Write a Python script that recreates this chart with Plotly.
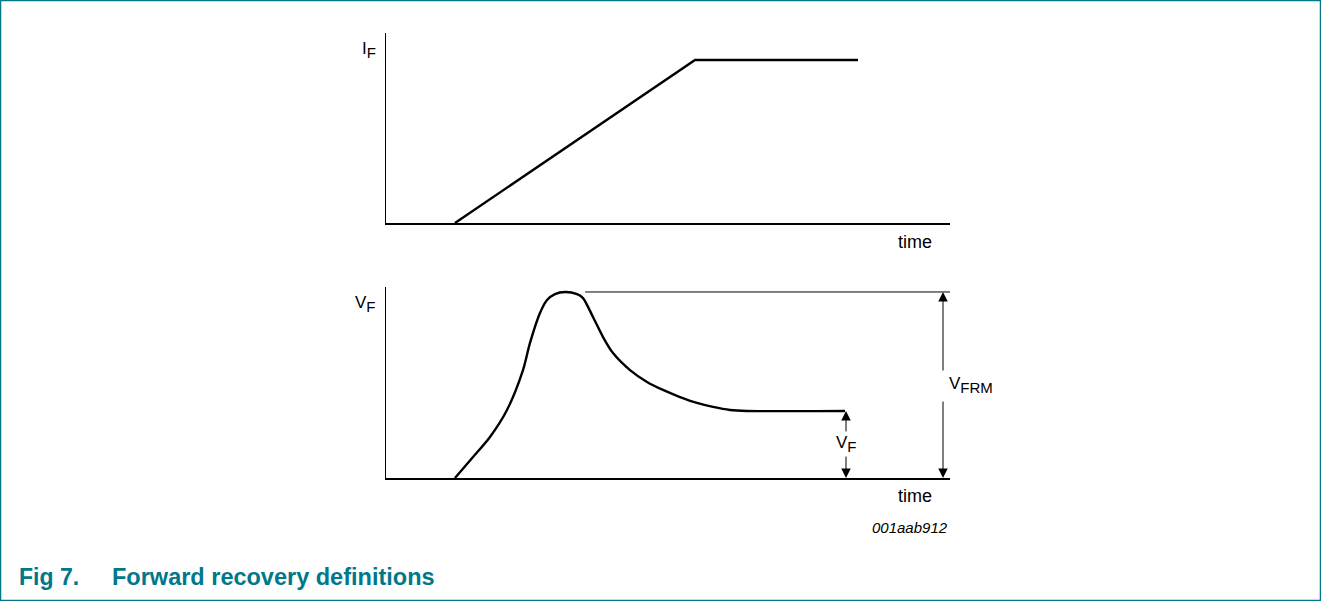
import plotly.graph_objects as go

W, H = 1321, 601

# ---- data (time in arbitrary units 0..10, amplitude normalised 0..1) ----
if_time = [1.223, 5.479, 8.369]
if_value = [0.0, 0.858, 0.858]

vf_time = [1.223, 1.543, 1.844, 2.145, 2.429, 2.553, 2.730, 2.855, 2.996, 3.174,
           3.387, 3.493, 3.670, 3.848, 4.025, 4.326, 4.628, 4.911, 5.213, 5.514,
           5.798, 6.099, 6.401, 8.138]
vf_value = [0.0, 0.110, 0.215, 0.356, 0.565, 0.707, 0.864, 0.932, 0.963, 0.974,
            0.963, 0.942, 0.843, 0.738, 0.654, 0.565, 0.503, 0.461, 0.424, 0.393,
            0.372, 0.356, 0.351, 0.351]

vfrm_level = 0.974
vf_level = 0.351
peak_line_time = [3.53, 10.0]
vfrm_arrow_time = 9.876
vf_arrow_time = 8.156

TEAL = "#00788a"
FONT = "Liberation Sans, Arial, sans-serif"


def px(x):
    return x / W


def py(y):
    return 1 - y / H


fig = go.Figure()

fig.add_trace(go.Scatter(x=if_time, y=if_value, mode="lines",
                         line=dict(color="black", width=2.4),
                         xaxis="x", yaxis="y", showlegend=False, hoverinfo="skip"))
fig.add_trace(go.Scatter(x=vf_time, y=vf_value, mode="lines",
                         line=dict(color="black", width=2.4, shape="spline", smoothing=0.8),
                         xaxis="x2", yaxis="y2", showlegend=False, hoverinfo="skip"))
fig.add_trace(go.Scatter(x=peak_line_time, y=[vfrm_level, vfrm_level], mode="lines",
                         line=dict(color="black", width=1),
                         xaxis="x2", yaxis="y2", showlegend=False, hoverinfo="skip"))

ax_common = dict(showline=True, linecolor="black", linewidth=1.5, showgrid=False,
                 zeroline=False, showticklabels=False, ticks="", fixedrange=True)
xdom = [386 / W, 950 / W]
fig.update_layout(
    width=W, height=H,
    margin=dict(l=0, r=0, t=0, b=0),
    paper_bgcolor="white", plot_bgcolor="white",
    xaxis=dict(domain=xdom, range=[0, 10], anchor="y", **ax_common),
    yaxis=dict(domain=[py(223), py(33)], range=[0, 1], anchor="x", **ax_common),
    xaxis2=dict(domain=xdom, range=[0, 10], anchor="y2", **ax_common),
    yaxis2=dict(domain=[py(478), py(287)], range=[0, 1], anchor="x2", **ax_common),
    font=dict(family=FONT, color="black", size=17),
)

anns = []


def arrow(xv, y_head, y_tail):
    anns.append(dict(x=xv, y=y_head, ax=xv, ay=y_tail, xref="x2", yref="y2",
                     axref="x2", ayref="y2", text="", showarrow=True,
                     arrowhead=2, arrowsize=1.9, arrowwidth=1, arrowcolor="black",
                     standoff=0, startstandoff=0))


arrow(vfrm_arrow_time, vfrm_level, 0.555)
arrow(vfrm_arrow_time, 0.0, 0.408)
arrow(vf_arrow_time, vf_level, 0.236)
arrow(vf_arrow_time, 0.0, 0.120)


def label(text, x, y, xanchor="center", size=17, italic=False, color="black", bold=False):
    t = text
    if bold:
        t = "<b>" + t + "</b>"
    if italic:
        t = "<i>" + t + "</i>"
    anns.append(dict(x=px(x), y=py(y), xref="paper", yref="paper", text=t,
                     showarrow=False, xanchor=xanchor, yanchor="middle",
                     font=dict(family=FONT, size=size, color=color)))


def sub(main, s):
    return main + "<sub><span style='font-size:15px'>" + s + "</span></sub>"


label(sub("I", "F"), 378, 50, xanchor="right")
label(sub("V", "F"), 378, 304, xanchor="right")
label("time", 915, 242, size=18)
label("time", 915, 496, size=18)
label(sub("V", "FRM"), 947, 385, xanchor="left")
label(sub("V", "F"), 846, 444)
label("001aab912", 910, 527, italic=True, size=15)
label("Fig 7.", 17, 577, xanchor="left", size=23, color=TEAL, bold=True)
label("Forward recovery definitions", 110, 577, xanchor="left", size=23.5, color=TEAL, bold=True)

fig.update_layout(annotations=anns)

fig.add_shape(type="rect", xref="paper", yref="paper", x0=0, y0=0, x1=1, y1=1,
              line=dict(color=TEAL, width=2.5), fillcolor="rgba(0,0,0,0)")

fig.write_html("out.html",
               config={"displayModeBar": False, "staticPlot": True},
               post_script="document.body.style.margin='0';"
                           "document.body.style.overflow='hidden';")
